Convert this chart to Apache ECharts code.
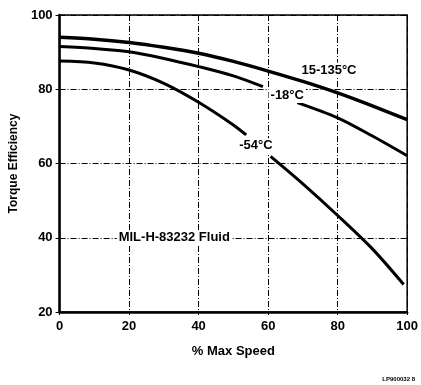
<!DOCTYPE html>
<html><head><meta charset="utf-8">
<script src="https://cdn.jsdelivr.net/npm/echarts@6/dist/echarts.min.js"></script>
<style>html,body{margin:0;padding:0;background:#fff}#c{width:421px;height:385px}</style>
</head><body><div id="c"></div>
<script>
var xTicks = [0, 20, 40, 60, 80, 100];
var yTicks = [20, 40, 60, 80, 100];
var speedTop = [0, 10, 20, 30, 40, 50, 60, 70, 80, 90, 100];
var effTop   = [94, 93.5, 92.6, 91.3, 89.7, 87.5, 84.9, 82.1, 79, 75.5, 71.8];
var speedMid = [0, 10, 20, 30, 40, 50, 58.5, 63, 68.4, 80, 90, 100];
var effMid   = [91.5, 91, 90.1, 88.3, 86.1, 83.6, 80.7, '-', 76.4, 72.3, 67.4, 62.1];
var speedLow = [0, 10, 20, 30, 40, 50, 53.7, 57, 60.7, 70, 80, 90, 99];
var effLow   = [87.6, 87.1, 85.2, 81.6, 76.5, 70.4, 67.7, '-', 61.9, 54.5, 46, 37, 27.4];
var labelNames = ['15-135°C', '-18°C', '-54°C', 'MIL-H-83232 Fluid'];
var labelX = [77.5, 65.5, 56.5, 33];
var labelY = [85.2, 78.3, 64.8, 40];

function pairs(xs, ys) { return xs.map(function (x, i) { return [x, ys[i]]; }); }
var font = '"Liberation Sans", Arial, sans-serif';
var chart = echarts.init(document.getElementById('c'), null, { renderer: 'canvas' });
chart.setOption({
  animation: false,
  backgroundColor: '#fff',
  grid: { left: 58, top: 15, right: 9, bottom: 73, show: true, borderColor: '#000', borderWidth: 1.5, backgroundColor: 'transparent' },
  xAxis: {
    type: 'value', min: 0, max: 100, interval: 20,
    name: '% Max Speed', nameLocation: 'middle', nameGap: 33,
    nameTextStyle: { fontFamily: font, fontWeight: 'bold', fontSize: 13, color: '#000' },
    axisLine: { show: true, lineStyle: { color: '#000', width: 2.5 } },
    axisTick: { show: true, length: 3, lineStyle: { color: '#000' } },
    axisLabel: { fontFamily: font, fontWeight: 'bold', fontSize: 13, color: '#000', margin: 8,
      formatter: function (v) { return xTicks.indexOf(v) >= 0 ? String(v) : ''; } },
    splitLine: { show: true, lineStyle: { color: '#000', width: 1, type: [6, 2, 1, 2] } }
  },
  yAxis: {
    type: 'value', min: 20, max: 100, interval: 20,
    name: 'Torque Efficiency', nameLocation: 'middle', nameGap: 38,
    nameTextStyle: { fontFamily: font, fontWeight: 'bold', fontSize: 12, color: '#000' },
    axisLine: { show: true, lineStyle: { color: '#000', width: 2.5 } },
    axisTick: { show: true, length: 4, lineStyle: { color: '#000' } },
    axisLabel: { fontFamily: font, fontWeight: 'bold', fontSize: 13, color: '#000', margin: 7,
      formatter: function (v) { return yTicks.indexOf(v) >= 0 ? String(v) : ''; } },
    splitLine: { show: true, lineStyle: { color: '#000', width: 1, type: [6, 2, 1, 2] } }
  },
  series: [
    { type: 'line', data: pairs(speedTop, effTop), smooth: 0.3, symbol: 'none', lineStyle: { color: '#000', width: 3.5 }, z: 3 },
    { type: 'line', data: pairs(speedMid, effMid), smooth: 0.3, symbol: 'none', connectNulls: false, lineStyle: { color: '#000', width: 3 }, z: 3 },
    { type: 'line', data: pairs(speedLow, effLow), smooth: 0.3, symbol: 'none', connectNulls: false, lineStyle: { color: '#000', width: 3 }, z: 3 },
    { type: 'scatter', symbolSize: 0, z: 5, itemStyle: { opacity: 1, color: '#000' },
      data: labelNames.map(function (n, i) { return { name: n, value: [labelX[i], labelY[i]] }; }),
      label: { show: true, position: 'inside', formatter: '{b}', fontFamily: font, fontWeight: 'bold', fontSize: 13, color: '#000',
        opacity: 1, backgroundColor: '#fff', padding: [1, 2] } }
  ],
  graphic: [
    { type: 'text', right: 6, bottom: 3, style: { text: 'LP900032 8', font: 'bold 6px ' + font, fill: '#000' } }
  ]
});
</script></body></html>
